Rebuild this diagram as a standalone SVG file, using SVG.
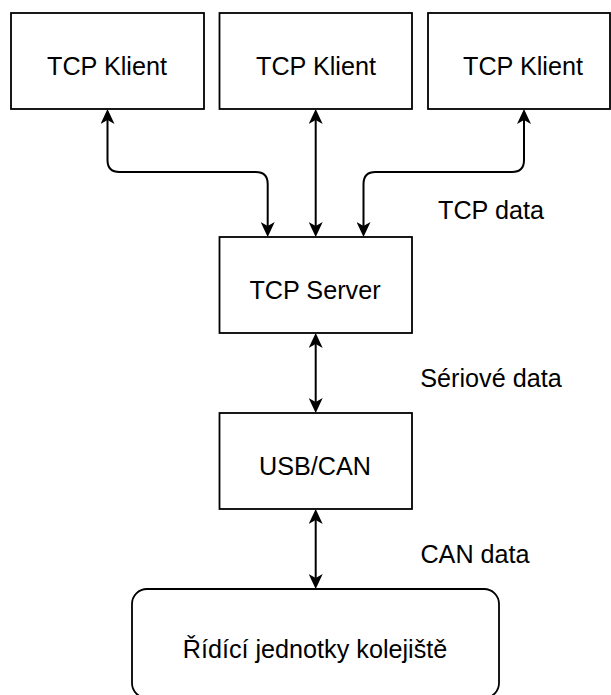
<svg xmlns="http://www.w3.org/2000/svg" width="611" height="695" viewBox="0 0 611 695">
  <style>
    .box { fill: #ffffff; stroke: #000000; stroke-width: 1.8; }
    .lbl { font-family: "Liberation Sans", Arial, Helvetica, sans-serif; font-size: 25.2px; fill: #000000; text-anchor: middle; }
    .edge { fill: none; stroke: #000000; stroke-width: 2; }
  </style>
  <defs>
    <marker id="arrow" viewBox="0 0 15 14" refX="4" refY="7" markerWidth="15" markerHeight="14" markerUnits="userSpaceOnUse" orient="auto-start-reverse">
      <path d="M15,7 L0,0 L4,7 L0,14 Z" fill="#000000"/>
    </marker>
  </defs>
  <rect width="611" height="695" fill="#ffffff"/>

  <g id="edges">
    <path class="edge" marker-start="url(#arrow)" marker-end="url(#arrow)" d="M107.5,120 V160 Q107.5,172 119.5,172 H255.7 Q267.7,172 267.7,184 V226"/>
    <path class="edge" marker-start="url(#arrow)" marker-end="url(#arrow)" d="M315.7,120 V226"/>
    <path class="edge" marker-start="url(#arrow)" marker-end="url(#arrow)" d="M524,120 V160 Q524,172 512,172 H375.5 Q363.5,172 363.5,184 V226"/>
    <path class="edge" marker-start="url(#arrow)" marker-end="url(#arrow)" d="M315.7,344 V402"/>
    <path class="edge" marker-start="url(#arrow)" marker-end="url(#arrow)" d="M315.7,520 V578"/>
  </g>

  <g id="client1">
    <rect class="box" x="11" y="13" width="193" height="96"/>
    <text class="lbl" x="107" y="75">TCP Klient</text>
  </g>
  <g id="client2">
    <rect class="box" x="219.5" y="13" width="192.5" height="96"/>
    <text class="lbl" x="316" y="75">TCP Klient</text>
  </g>
  <g id="client3">
    <rect class="box" x="428" y="13" width="182" height="96"/>
    <text class="lbl" x="523" y="75">TCP Klient</text>
  </g>
  <g id="server">
    <rect class="box" x="219.5" y="237" width="192.5" height="96"/>
    <text class="lbl" x="315" y="299">TCP Server</text>
  </g>
  <g id="usbcan">
    <rect class="box" x="219.5" y="413" width="192.5" height="96"/>
    <text class="lbl" x="315" y="475">USB/CAN</text>
  </g>
  <g id="units">
    <rect class="box" x="132" y="589" width="367" height="109" rx="15" ry="15"/>
    <text class="lbl" x="315" y="658">Řídící jednotky kolejiště</text>
  </g>

  <g id="labels">
    <text class="lbl" x="491" y="219">TCP data</text>
    <text class="lbl" x="491" y="387">Sériové data</text>
    <text class="lbl" x="475" y="563">CAN data</text>
  </g>
</svg>
